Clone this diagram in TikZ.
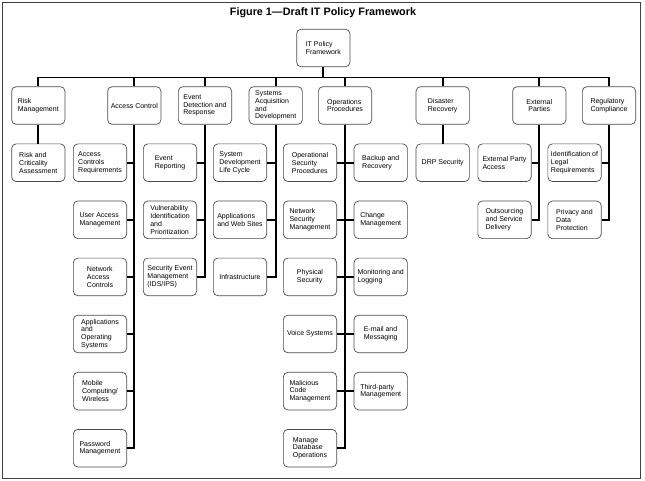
\documentclass[tikz,border=0pt]{standalone}
\usepackage{fontspec}
\setmainfont{Liberation Sans}
\begin{document}
\begin{tikzpicture}[x=1pt,y=-1pt,
  box/.style={draw=black!70, line width=0.7pt, fill=white, rounded corners=4.5pt,
    minimum width=53.3pt, minimum height=37.6pt, inner sep=1pt, align=left,
    font=\fontsize{7}{7.8}\selectfont},
  conn/.style={line width=1.8pt, draw=black},
  frame/.style={line width=1.3pt, draw=black!75},
  titlestyle/.style={font=\fontsize{10.8}{13}\selectfont\bfseries}]
\useasboundingbox (0,0) rectangle (645,481);
\draw[frame] (2.7,2.7) rectangle (640.3,478.3);
\node[titlestyle] (title) at (323,13) {Figure 1—Draft IT Policy Framework};

% root
\node[box] (root) at (323.3,48) {IT Policy\\Framework};
\coordinate (bus) at (323.3,77.5);

% level 1
\node[box] (risk) at (38.3,105.5) {Risk\\Management};
\node[box] (acc)  at (134.3,105.5) {Access Control};
\node[box] (evt)  at (205,105.5) {Event\\Detection and\\Response};
\node[box] (sys)  at (275.7,105.5) {Systems\\Acquisition\\and\\Development};
\node[box] (ops)  at (345,105.5) {Operations\\Procedures};
\node[box] (drp)  at (442.7,105.5) {Disaster\\Recovery};
\node[box, align=center] (ext)  at (539.3,105.5) {External\\Parties};
\node[box] (reg)  at (609,105.5) {Regulatory\\Compliance};

% level 2
\node[box] (risk1) at (38.3,162.7) {Risk and\\Criticality\\Assessment};

\node[box] (acc1) at (100,162.7) {Access\\Controls\\Requirements};
\node[box] (acc2) at (100,219.8) {User Access\\Management};
\node[box] (acc3) at (100,276.9) {Network\\Access\\Controls};
\node[box] (acc4) at (100,334.0) {Applications\\and\\Operating\\Systems};
\node[box] (acc5) at (100,391.1) {Mobile\\Computing/\\Wireless};
\node[box] (acc6) at (100,448.2) {Password\\Management};

\node[box] (evt1) at (170,162.7) {Event\\Reporting};
\node[box] (evt2) at (170,219.8) {Vulnerability\\Identification\\and\\Prioritization};
\node[box] (evt3) at (170,276.9) {Security Event\\Management\\(IDS/IPS)};

\node[box] (sys1) at (240,162.7) {System\\Development\\Life Cycle};
\node[box] (sys2) at (240,219.8) {Applications\\and Web Sites};
\node[box] (sys3) at (240,276.9) {Infrastructure};

\node[box] (opl1) at (310,162.7) {Operational\\Security\\Procedures};
\node[box] (opl2) at (310,219.8) {Network\\Security\\Management};
\node[box] (opl3) at (310,276.9) {Physical\\Security};
\node[box] (opl4) at (310,334.0) {Voice Systems};
\node[box] (opl5) at (310,391.1) {Malicious\\Code\\Management};
\node[box] (opl6) at (310,448.2) {Manage\\Database\\Operations};

\node[box] (opr1) at (380.7,162.7) {Backup and\\Recovery};
\node[box] (opr2) at (380.7,219.8) {Change\\Management};
\node[box] (opr3) at (380.7,276.9) {Monitoring and\\Logging};
\node[box] (opr4) at (380.7,334.0) {E-mail and\\Messaging};
\node[box] (opr5) at (380.7,391.1) {Third-party\\Management};

\node[box] (drp1) at (442.7,162.7) {DRP Security};

\node[box] (ext1) at (504.5,162.7) {External Party\\Access};
\node[box] (ext2) at (504.5,219.8) {Outsourcing\\and Service\\Delivery};

\node[box] (reg1) at (574.5,162.7) {Identification of\\Legal\\Requirements};
\node[box] (reg2) at (574.5,219.8) {Privacy and\\Data\\Protection};

% connectors
\draw[conn] (root.south) -- (bus);
\foreach \n in {risk,acc,evt,sys,ops,drp,ext,reg}
  \draw[conn] (bus) -| (\n.north);
\draw[conn] (risk.south) -- (risk1.north);
\draw[conn] (drp.south) -- (drp1.north);
\foreach \i in {1,...,6} \draw[conn] (acc.south) |- (acc\i.east);
\foreach \i in {1,...,3} \draw[conn] (evt.south) |- (evt\i.east);
\foreach \i in {1,...,3} \draw[conn] (sys.south) |- (sys\i.east);
\foreach \i in {1,...,6} \draw[conn] (ops.south) |- (opl\i.east);
\foreach \i in {1,...,5} \draw[conn] (ops.south) |- (opr\i.west);
\foreach \i in {1,2} \draw[conn] (ext.south) |- (ext\i.east);
\foreach \i in {1,2} \draw[conn] (reg.south) |- (reg\i.east);
\end{tikzpicture}
\end{document}
